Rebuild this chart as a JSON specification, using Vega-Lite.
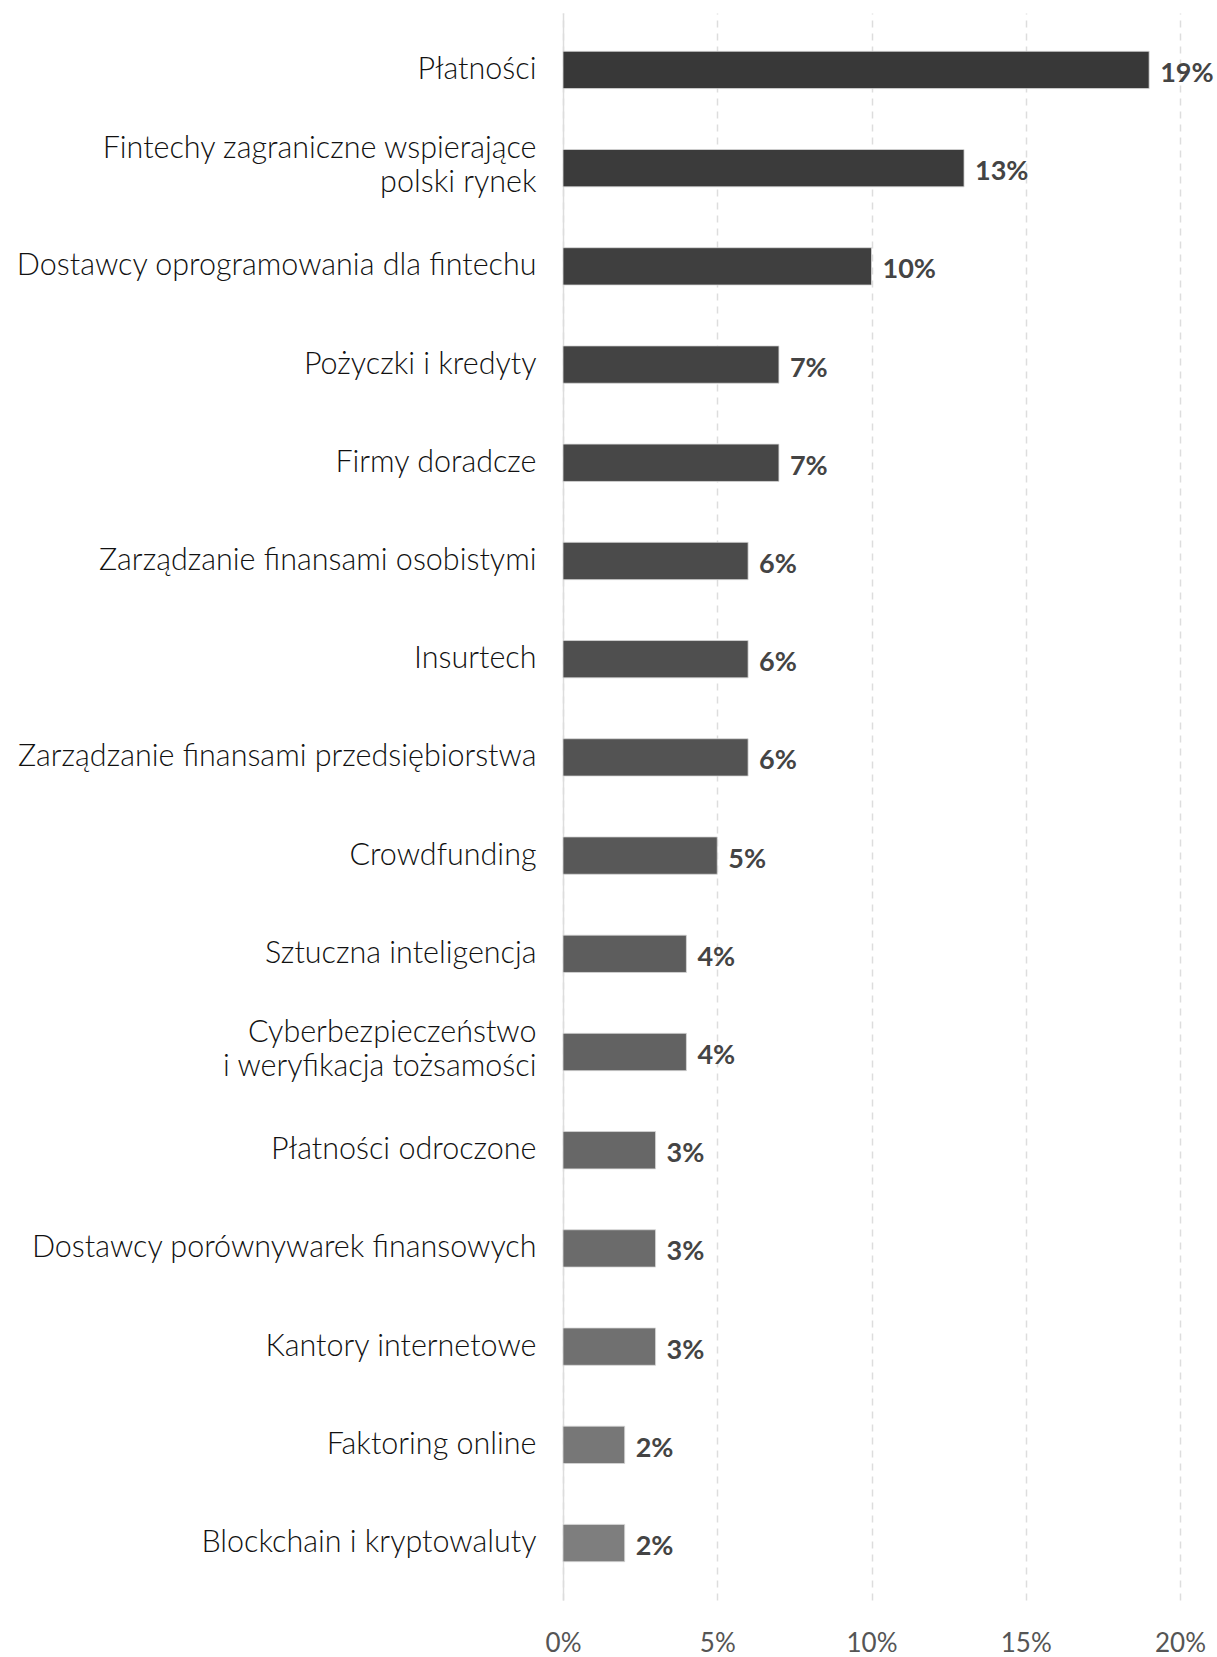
{
  "$schema": "https://vega.github.io/schema/vega-lite/v6.json",
  "width": 617,
  "height": 1587,
  "autosize": {"type": "none"},
  "padding": {"left": 563, "top": 13, "right": 37, "bottom": 57},
  "background": "#ffffff",
  "config": {"view": {"stroke": null}, "font": "Lato"},
  "data": {
    "values": [
      {"category": "Płatności", "value": 0.19},
      {"category": "Fintechy zagraniczne wspierające polski rynek", "value": 0.13},
      {"category": "Dostawcy oprogramowania dla fintechu", "value": 0.10},
      {"category": "Pożyczki i kredyty", "value": 0.07},
      {"category": "Firmy doradcze", "value": 0.07},
      {"category": "Zarządzanie finansami osobistymi", "value": 0.06},
      {"category": "Insurtech", "value": 0.06},
      {"category": "Zarządzanie finansami przedsiębiorstwa", "value": 0.06},
      {"category": "Crowdfunding", "value": 0.05},
      {"category": "Sztuczna inteligencja", "value": 0.04},
      {"category": "Cyberbezpieczeństwo i weryfikacja tożsamości", "value": 0.04},
      {"category": "Płatności odroczone", "value": 0.03},
      {"category": "Dostawcy porównywarek finansowych", "value": 0.03},
      {"category": "Kantory internetowe", "value": 0.03},
      {"category": "Faktoring online", "value": 0.02},
      {"category": "Blockchain i kryptowaluty", "value": 0.02}
    ]
  },
  "encoding": {
    "y": {
      "field": "category",
      "type": "nominal",
      "sort": null,
      "scale": {"paddingInner": 0.62, "paddingOuter": 0.39},
      "axis": {
        "title": null,
        "domain": true,
        "domainColor": "#dddddd",
        "domainWidth": 1.5,
        "ticks": false,
        "labelPadding": 27,
        "labelFontSize": 30.5,
        "labelFontWeight": 300,
        "labelColor": "#111111",
        "labelFont": "Lato",
        "labelLimit": 600,
        "labelLineHeight": 34,
        "labelOffset": {"condition": {"test": "datum.value === 'Fintechy zagraniczne wspierające polski rynek' || datum.value === 'Cyberbezpieczeństwo i weryfikacja tożsamości'", "value": -19}, "value": 0},
        "labelExpr": "datum.label === 'Fintechy zagraniczne wspierające polski rynek' ? ['Fintechy zagraniczne wspierające', 'polski rynek'] : datum.label === 'Cyberbezpieczeństwo i weryfikacja tożsamości' ? ['Cyberbezpieczeństwo', 'i weryfikacja tożsamości'] : datum.label"
      }
    },
    "x": {
      "field": "value",
      "type": "quantitative",
      "scale": {"domain": [0, 0.2], "nice": false},
      "axis": {
        "title": null,
        "format": ".0%",
        "values": [0, 0.05, 0.1, 0.15, 0.2],
        "domain": false,
        "ticks": false,
        "grid": true,
        "gridColor": "#dddddd",
        "gridDash": [7, 6],
        "gridWidth": 1.5,
        "labelFlush": false,
        "labelPadding": 30,
        "labelFontSize": 26,
        "labelColor": "#555555",
        "labelFont": "Lato"
      }
    }
  },
  "layer": [
    {
      "mark": {"type": "bar", "stroke": "#d8d8d8", "strokeWidth": 0.8},
      "encoding": {
        "color": {
          "field": "category",
          "type": "nominal",
          "legend": null,
          "scale": {
            "domain": ["Płatności", "Fintechy zagraniczne wspierające polski rynek", "Dostawcy oprogramowania dla fintechu", "Pożyczki i kredyty", "Firmy doradcze", "Zarządzanie finansami osobistymi", "Insurtech", "Zarządzanie finansami przedsiębiorstwa", "Crowdfunding", "Sztuczna inteligencja", "Cyberbezpieczeństwo i weryfikacja tożsamości", "Płatności odroczone", "Dostawcy porównywarek finansowych", "Kantory internetowe", "Faktoring online", "Blockchain i kryptowaluty"],
            "range": ["#383838", "#3b3b3b", "#3f3f3f", "#434343", "#474747", "#4b4b4b", "#4f4f4f", "#535353", "#585858", "#5d5d5d", "#626262", "#676767", "#6b6b6b", "#707070", "#777777", "#7e7e7e"]
          }
        }
      }
    },
    {
      "mark": {"type": "text", "align": "left", "baseline": "middle", "dx": 11, "dy": 4, "fontSize": 27, "fontWeight": "bold", "color": "#444444", "font": "Lato"},
      "encoding": {
        "text": {"field": "value", "type": "quantitative", "format": ".0%"}
      }
    }
  ]
}
